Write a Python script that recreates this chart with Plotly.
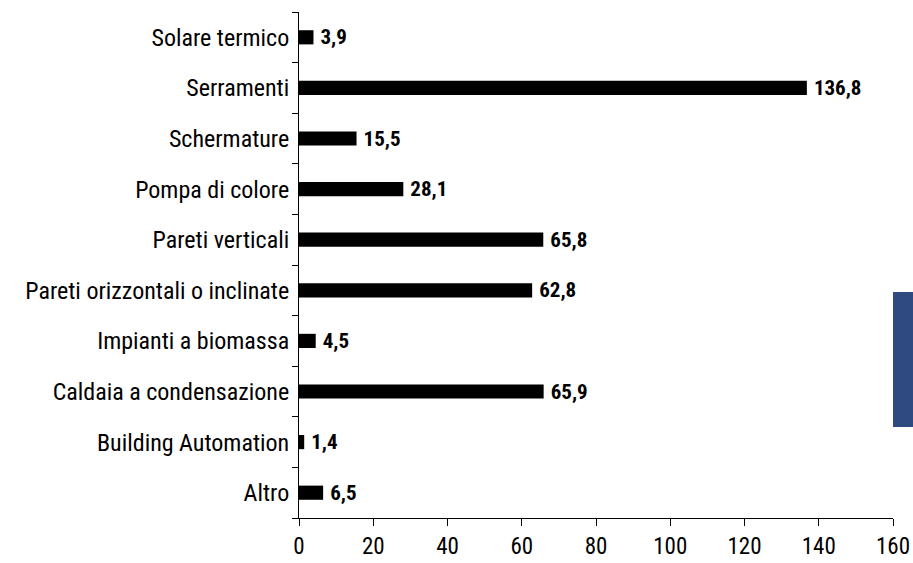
import plotly.graph_objects as go

categories = ["Solare termico", "Serramenti", "Schermature", "Pompa di colore",
              "Pareti verticali", "Pareti orizzontali o inclinate", "Impianti a biomassa",
              "Caldaia a condensazione", "Building Automation", "Altro"]
values = [3.9, 136.8, 15.5, 28.1, 65.8, 62.8, 4.5, 65.9, 1.4, 6.5]
labels = ["\u2009" + f"{v:.1f}".replace(".", ",") for v in values]
x_ticks = [0, 20, 40, 60, 80, 100, 120, 140, 160]

FONT = "Liberation Sans Narrow, Arial Narrow, Roboto Condensed, Liberation Sans, sans-serif"

fig = go.Figure(go.Bar(
    y=categories, x=values, orientation="h",
    marker=dict(color="black", line=dict(width=0)),
    width=0.28,
    text=labels, textposition="outside", constraintext="none",
    textfont=dict(family=FONT, size=21, color="black", weight="bold"),
    cliponaxis=False,
))

fig.update_layout(
    width=913, height=563,
    margin=dict(l=299, r=20, t=12, b=45, autoexpand=False),
    paper_bgcolor="white", plot_bgcolor="white",
    font=dict(family=FONT, size=23, color="black"),
    showlegend=False,
    xaxis=dict(range=[0, 160], tickvals=x_ticks, showgrid=False, zeroline=False,
               showline=True, linecolor="black", linewidth=1, automargin=False,
               ticks="outside", ticklen=7, tickcolor="black",
               tickfont=dict(size=23)),
    yaxis=dict(categoryorder="array", categoryarray=categories[::-1],
               showgrid=False, zeroline=False, showline=True, linecolor="black", linewidth=1,
               automargin=False,
               ticks="outside", ticklen=6, tickcolor="black", tickson="boundaries",
               tickfont=dict(size=24), ticklabelstandoff=4),
    shapes=[dict(type="rect", xref="paper", yref="paper",
                 x0=1.0, x1=1.04, y0=0.1798, y1=0.4466,
                 fillcolor="#2F4A7E", line=dict(width=0))],
)

fig.write_html("out.html", config={"displayModeBar": False},
               post_script="document.body.style.margin='0';document.body.style.overflow='hidden';")
